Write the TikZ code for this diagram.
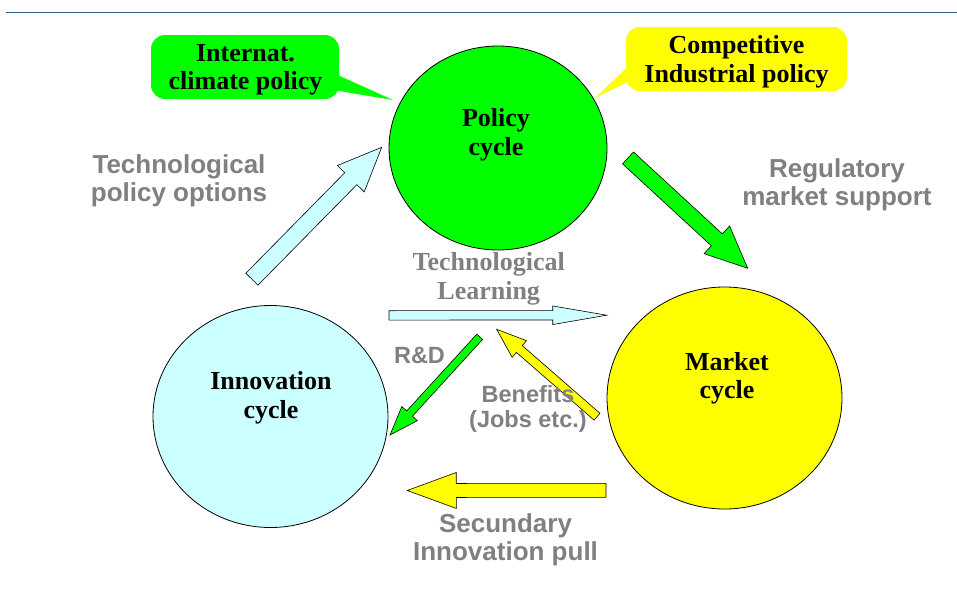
\documentclass[tikz,border=0pt]{standalone}
\usepackage{fontspec}
\setmainfont{Liberation Serif}
\newfontfamily\labelsans{Liberation Sans}
\usetikzlibrary{calc,shapes.geometric}

\definecolor{cgreen}{HTML}{00FF00}
\definecolor{cyellow}{HTML}{FFFF00}
\definecolor{ccyan}{HTML}{CCFFFF}
\definecolor{labelgray}{HTML}{808080}
\definecolor{rulecol}{HTML}{2E5A8C}

\tikzset{
  cyclebox/.style={ellipse, draw=black, line width=0.8pt, inner sep=0pt,
    minimum width=235pt, minimum height=222pt},
  cycletext/.style={font=\fontsize{26}{28.5}\selectfont\bfseries, align=center, inner sep=0pt},
  calloutbox/.style={rounded corners=14pt, inner sep=0pt, align=center,
    font=\fontsize{26}{28.5}\selectfont\bfseries},
  graylabel/.style={font=\labelsans\fontsize{26}{28.5}\selectfont\bfseries,
    text=labelgray, align=center, inner sep=0pt},
  smalllabel/.style={font=\labelsans\fontsize{23.5}{25}\selectfont\bfseries,
    text=labelgray, align=center, inner sep=0pt},
  arrowline/.style={draw=black, line width=0.6pt, line join=miter},
}

% block arrow: #1 tail, #2 tip, #3 half shaft width, #4 half head width,
% #5 head length, #6 fill colour
\newcommand\blockarrow[6]{%
  \coordinate (ba-h) at ($(#2)!#5!(#1)$);
  \filldraw[arrowline, fill=#6]
    ($(#1)!#3!90:(#2)$) -- ($(ba-h)!#3!-90:(#1)$) -- ($(ba-h)!#4!-90:(#1)$)
    -- (#2) -- ($(ba-h)!#4!90:(#1)$) -- ($(ba-h)!#3!90:(#1)$)
    -- ($(#1)!#3!-90:(#2)$) -- cycle;}

\begin{document}
\begin{tikzpicture}[x=1pt,y=-1pt]
\useasboundingbox (0,0) rectangle (957,589);

% header rule
\coordinate (rule-l) at (6,12.3);
\coordinate (rule-r) at (957,12.3);
\draw[rulecol, line width=1.3pt] (rule-l) -- (rule-r);

% speech bubbles
\node[calloutbox, fill=cgreen, minimum width=188pt, minimum height=64pt] (gcall) at (245,67) {};
\node[cycletext] (gcall-t) at (245.5,70) {Internat.\\climate policy};
\coordinate (gtip) at (393,100);
\fill[cgreen] ($(gcall.east)+(-6,6)$) -- (gtip) -- ($(gcall.east)+(-6,23)$) -- cycle;

\node[calloutbox, fill=cyellow, minimum width=221pt, minimum height=64pt] (ycall) at (736.5,59) {};
\node[cycletext] (ycall-t) at (736.5,62) {Competitive\\Industrial policy};
\coordinate (ytip) at (595,98);
\fill[cyellow] ($(ycall.west)+(6,4)$) -- (ytip) -- ($(ycall.west)+(6,21)$) -- cycle;

% the three cycles
\node[cyclebox, fill=cgreen, minimum width=218pt, minimum height=204pt] (policy) at (498,148) {};
\node[cyclebox, fill=ccyan] (innov) at (270.5,416.5) {};
\node[cyclebox, fill=cyellow] (market) at (724.5,398) {};

\node[cycletext] (policy-t) at (496,135) {Policy\\cycle};
\node[cycletext] (innov-t) at (271,398) {Innovation\\cycle};
\node[cycletext] (market-t) at (727,378.5) {Market\\cycle};

% arrow end points
\coordinate (tpo-tail) at (251.9,279.2);
\coordinate (tpo-tip) at (381.7,147.3);
\coordinate (reg-tail) at (628,157.9);
\coordinate (reg-tip) at (747.7,268.3);
\coordinate (tl-tail) at (389,315.4);
\coordinate (tl-tip) at (606.7,315.2);
\coordinate (rd-tail) at (479.7,336.8);
\coordinate (rd-tip) at (390,435);
\coordinate (ben-tail) at (597,416.7);
\coordinate (ben-tip) at (496.7,329.3);
\coordinate (sec-tail) at (606,490.3);
\coordinate (sec-tip) at (407.3,490.5);

\blockarrow{tpo-tail}{tpo-tip}{8.5pt}{18.8pt}{44pt}{ccyan}
\blockarrow{reg-tail}{reg-tip}{8.1pt}{18.8pt}{42pt}{cgreen}
\blockarrow{tl-tail}{tl-tip}{4.7pt}{9.3pt}{54pt}{ccyan}
\blockarrow{rd-tail}{rd-tip}{3.9pt}{10.5pt}{29pt}{cgreen}
\blockarrow{ben-tail}{ben-tip}{4.5pt}{11pt}{30pt}{cyellow}
\blockarrow{sec-tail}{sec-tip}{7pt}{18pt}{49pt}{cyellow}

% labels
\node[graylabel] (tpo-l) at (179,181) {Technological\\policy options};
\node[graylabel] (reg-l) at (837,185) {Regulatory\\market support};
\node[cycletext, text=labelgray] (tl-l) at (488.7,279) {Technological\\Learning};
\node[smalllabel] (rd-l) at (419.5,355) {R\&D};
\node[smalllabel] (ben-l) at (528,409) {Benefits\\(Jobs etc.)};
\node[graylabel] (sec-l) at (505.5,540) {Secundary\\Innovation pull};

\end{tikzpicture}
\end{document}
